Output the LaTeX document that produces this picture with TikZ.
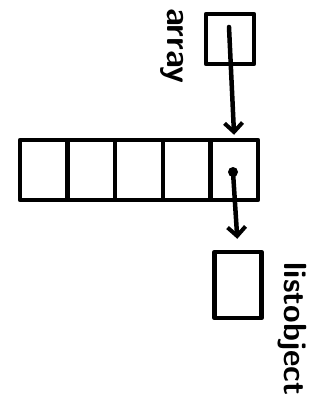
\documentclass[tikz,border=0pt]{standalone}
\usetikzlibrary{arrows.meta}

\tikzset{
	sketch/.style={line width=4.5pt, line cap=round, line join=round},
	box/.style={sketch, draw, inner sep=0pt, minimum width=47.6pt, minimum height=60pt},
	pointer/.style={sketch, -{Straight Barb[length=9pt,width=18pt,line width=4pt]}},
	handtext/.style={rotate=-90, font=\sffamily\bfseries\fontsize{34}{34}\selectfont}
}

\begin{document}
\begin{tikzpicture}[x=1pt,y=-1pt]
		\useasboundingbox (0,0) rectangle (326,406);

		% the variable and its name
		\node[box, minimum width=48pt, minimum height=50pt] (ptr) at (230,39) {};
		\node[handtext] (arrayname) at (172,46) {array};
		\coordinate (ptrstart) at (229,27);

		% the array itself
		\foreach \i in {1,...,5}
			\node[box] (cell\i) at ({20+47.6*(\i-0.5)},170) {};

		% the object the last cell refers to
		\node[box, minimum width=47pt, minimum height=66pt] (obj) at (238,285) {};
		\node[handtext, font=\sffamily\bfseries\fontsize{32}{32}\selectfont] (objname) at (292,329) {listobject};

		\fill (233,172) circle (5pt) coordinate (dot);
		\draw[pointer, shorten >=3pt] (ptrstart) -- (cell5.north);
		\draw[pointer, shorten >=11pt] (dot) -- (obj.north);
	\end{tikzpicture}
\end{document}
